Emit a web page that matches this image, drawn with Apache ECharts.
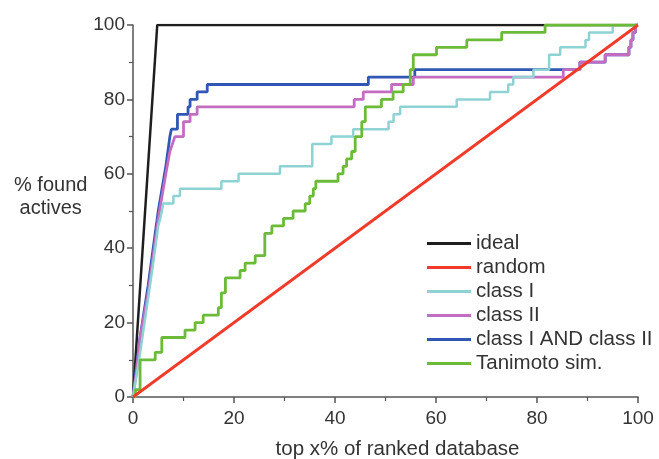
<!DOCTYPE html>
<html><head><meta charset="utf-8">
<script src="https://cdn.jsdelivr.net/npm/echarts@6/dist/echarts.min.js"></script>
<style>html,body{margin:0;padding:0;background:#fff}#c{width:659px;height:459px}</style>
</head><body><div id="c"></div>
<script>
const xTicks = [0, 20, 40, 60, 80, 100];
const yTicks = [0, 20, 40, 60, 80, 100];
const seriesNames = ['ideal', 'random', 'class I', 'class II', 'class I AND class II', 'Tanimoto sim.'];

// straight-line parts [x, y]
const ideal = [[0, 0], [4.8, 100], [100, 100]];
const random = [[0, 0], [100, 100]];
const classIRise = [[0,0],[1.2,10],[2.5,22],[4,36],[5,46],[5.4,48],[6,52]];
const classIIRise = [[0,0],[0.6,6],[1.4,16],[3,28],[5,48],[6.5,60],[7.3,66],[8.3,70]];
const classIandIIRise = [[0,0],[0.5,6],[1.4,16],[3,30],[5,50],[6.5,62],[7.3,70]];
const tanimotoRise = [[0,0]];
// stair parts: [x where the curve steps, new level]
const classISteps = [[8,54],[9.3,56],[17.5,58],[20.9,60],[29.1,62],[35.5,68],[39.3,70],[43.6,72],[50.6,74],[51.6,76],[52.9,78],[64.1,80],[70.7,82],[74.3,84],[75.3,86],[79.3,88],[82.4,92],[84.6,94],[89.6,96],[90.3,98],[95,100],[100,100]];
const classIISteps = [[10,74],[11.3,76],[12.7,78],[43.8,80],[45.6,82],[51.2,84],[55.5,86],[85.2,88],[88.5,90],[93.5,92],[98.2,94],[98.6,96],[99,98],[99.5,100],[100,100]];
const classIandIISteps = [[7.6,72],[8.8,76],[10.9,78],[11.3,80],[12.7,82],[14.7,84],[46.6,86],[55.8,88],[88.5,90],[93.5,92],[98.2,94],[98.6,96],[99,98],[99.5,100],[100,100]];
const tanimotoSteps = [[0.5,2],[1.4,10],[4.4,12],[5.7,16],[10.3,18],[12.3,20],[13.9,22],[16.9,24],[17.5,28],[18.3,32],[21.2,34],[22.2,36],[24.2,38],[26.1,44],[27.5,46],[29.8,48],[31.7,50],[34.1,52],[35,54],[35.7,56],[36.2,58],[40.6,60],[41.6,62],[42.3,64],[43.3,66],[44,70],[45.3,74],[46,78],[49.2,80],[51.5,82],[53.5,84],[54.9,88],[55.5,92],[60.1,94],[66.1,96],[73,98],[81.6,100],[100,100]];

function build(rise, steps) {
  const pts = rise.map(p => p.slice());
  let prev = pts[pts.length - 1][1];
  steps.forEach(([x, y]) => { pts.push([x, prev]); pts.push([x, y]); prev = y; });
  return pts;
}

const colors = {
  'ideal': '#1e1e1e',
  'random': '#f03a2a',
  'class I': '#8ed2d4',
  'class II': '#c46cc2',
  'class I AND class II': '#2f57b3',
  'Tanimoto sim.': '#6cbb38'
};
const font = "'Liberation Sans', Arial, sans-serif";
const textColor = '#333';

function mk(name, data, width) {
  return {
    name: name, type: 'line', data: data, symbol: 'none',
    lineStyle: { color: colors[name], width: width },
    itemStyle: { color: colors[name] },
    animation: false
  };
}

const chart = echarts.init(document.getElementById('c'), null, { renderer: 'canvas' });
chart.setOption({
  animation: false,
  textStyle: { fontFamily: font },
  grid: { left: 133, right: 21, top: 25, bottom: 62, containLabel: false, outerBoundsMode: 'none' },
  legend: {
    data: seriesNames,
    orient: 'vertical', left: 427, top: 233, padding: 0,
    itemWidth: 44, itemHeight: 3, itemGap: 3, icon: 'rect',
    textStyle: { fontSize: 20.5, lineHeight: 20.4, color: textColor, fontFamily: font }
  },
  xAxis: {
    type: 'value', min: xTicks[0], max: xTicks[xTicks.length - 1], interval: 20,
    name: 'top x% of ranked database', nameLocation: 'middle', nameGap: 42,
    nameTextStyle: { fontSize: 20.5, color: textColor, fontFamily: font, padding: [0, 0, 0, 24] },
    axisLine: { lineStyle: { color: '#555', width: 1.5 } },
    axisTick: { inside: false, length: 6, lineStyle: { color: '#555', width: 1.5 } },
    minorTick: { show: true, splitNumber: 2, length: 4, lineStyle: { color: '#555', width: 1.2 } },
    axisLabel: { fontSize: 19, color: textColor, margin: 12, fontFamily: font },
    splitLine: { show: false }
  },
  yAxis: {
    type: 'value', min: yTicks[0], max: yTicks[yTicks.length - 1], interval: 20,
    name: '% found\nactives', nameLocation: 'middle', nameGap: 71, nameRotate: 0,
    nameTextStyle: { fontSize: 20, color: textColor, fontFamily: font, align: 'center', verticalAlign: 'bottom', lineHeight: 23, padding: [0, 0, -9, 0] },
    axisLine: { lineStyle: { color: '#555', width: 1.5 } },
    axisTick: { inside: false, length: 6, lineStyle: { color: '#555', width: 1.5 } },
    minorTick: { show: true, splitNumber: 2, length: 4, lineStyle: { color: '#555', width: 1.2 } },
    axisLabel: { fontSize: 19, color: textColor, margin: 8, fontFamily: font },
    splitLine: { show: false }
  },
  series: [
    mk('ideal', ideal, 2.5),
    mk('class I AND class II', build(classIandIIRise, classIandIISteps), 2.8),
    mk('class II', build(classIIRise, classIISteps), 2.8),
    mk('class I', build(classIRise, classISteps), 2.5),
    mk('Tanimoto sim.', build(tanimotoRise, tanimotoSteps), 2.8),
    mk('random', random, 2.8)
  ]
});
</script>
</body></html>
